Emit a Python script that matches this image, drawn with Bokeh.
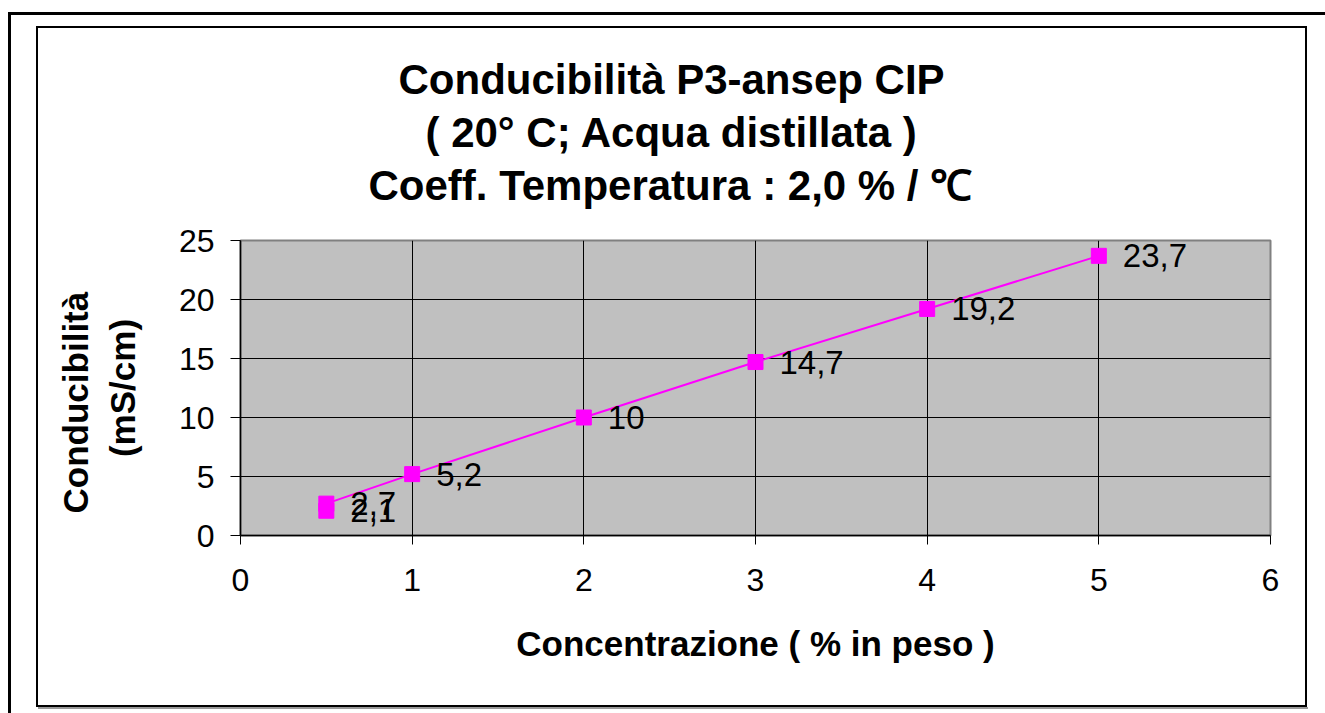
from bokeh.plotting import figure
from bokeh.models import Range1d, FixedTicker, Title, ColumnDataSource
from bokeh.core.properties import value
from bokeh.embed import file_html
from bokeh.resources import INLINE

# ---- data ----
conc = [0.5, 0.5, 1, 2, 3, 4, 5]
cond = [2.1, 2.7, 5.2, 10, 14.7, 19.2, 23.7]
point_labels = ["2,1", "2,7", "5,2", "10", "14,7", "19,2", "23,7"]
x_ticks = [0, 1, 2, 3, 4, 5, 6]
y_ticks = [0, 5, 10, 15, 20, 25]
title_lines = ["Conducibilità P3-ansep CIP",
               "( 20° C; Acqua distillata )",
               "Coeff. Temperatura : 2,0 % / ℃"]
x_title = "Concentrazione ( % in peso )"
y_title = "Conducibilità   \n(mS/cm)"

FONT = "Liberation Sans"
W, H = 1325, 713
FL, FT, FR, FB = 240, 240, 1270, 535  # frame in canvas px

p = figure(width=W, height=H, output_backend="svg", toolbar_location=None,
           x_range=Range1d(0, 6), y_range=Range1d(0, 25),
           min_border_left=FL, min_border_top=FT,
           min_border_right=W - FR, min_border_bottom=H - FB)
p.title.visible = False
p.background_fill_color = "#C0C0C0"
p.border_fill_alpha = 0
p.outline_line_color = "#808080"
p.outline_line_width = 2

for ax in (p.xaxis[0], p.yaxis[0]):
    ax.axis_line_color = "black"
    ax.axis_line_width = 1.5
    ax.major_tick_line_color = "black"
    ax.major_tick_in = 0
    ax.minor_tick_line_color = None
    ax.major_label_text_font = FONT
    ax.major_label_text_font_size = "32px"
    ax.major_label_text_color = "black"
    ax.axis_label_text_font = FONT
    ax.axis_label_text_font_style = "bold"
    ax.axis_label_text_font_size = "35px"
    ax.axis_label_text_color = "black"

p.xaxis.ticker = FixedTicker(ticks=x_ticks)
p.yaxis.ticker = FixedTicker(ticks=y_ticks)
p.xaxis.major_tick_out = 9
p.yaxis.major_tick_out = 10
p.xaxis.major_label_standoff = 24
p.yaxis.major_label_standoff = 16
p.xaxis.axis_label = x_title
p.yaxis.axis_label = y_title
p.xaxis.axis_label_standoff = 30
p.yaxis.axis_label_standoff = 34

p.xgrid.grid_line_color = "black"
p.ygrid.grid_line_color = "black"
p.xgrid.grid_line_width = 1
p.ygrid.grid_line_width = 1

src = ColumnDataSource(dict(x=conc, y=cond, t=point_labels))
p.line("x", "y", source=src, line_color="#FF00FF", line_width=2)
p.scatter("x", "y", source=src, marker="square", size=15,
          fill_color="#FF00FF", line_color="#FF00FF")
p.text("x", "y", text="t", source=src, x_offset=24, text_baseline="middle",
       text_align="left", text_font=value(FONT), text_font_size="33px",
       text_color="black")

# spacer between the title block and the plot frame
p.add_layout(Title(text=" ", text_font_size="1px", standoff=25), "above")
# title lines: added bottom-first (later titles stack above)
offsets = [158, 185, 128]
for i in (2, 1, 0):
    p.add_layout(Title(text=title_lines[i], align="left", offset=offsets[i],
                       standoff=4, vertical_align="top",
                       text_font=FONT, text_font_size="42px",
                       text_font_style="bold", text_color="black"), "above")

# chart borders drawn as page background behind the transparent canvas
lines = [  # (x, y, w, h, colour)
    (8, 12, 3, 701, "#000"),
    (8, 12, 1317, 3, "#000"),
    (38, 707, 1270, 2, "#999"),
    (36, 26, 1271, 2, "#000"),
    (36, 26, 2, 681, "#000"),
    (1305, 26, 2, 681, "#000"),
    (36, 705, 1271, 2, "#000"),
]
p.styles = {
    "background-color": "white",
    "background-image": ", ".join(f"linear-gradient({c},{c})" for *_, c in lines),
    "background-size": ", ".join(f"{w}px {h}px" for _, _, w, h, _ in lines),
    "background-position": ", ".join(f"{x}px {y}px" for x, y, *_ in lines),
    "background-repeat": "no-repeat",
}

open("out.html", "w").write(file_html(p, INLINE))
